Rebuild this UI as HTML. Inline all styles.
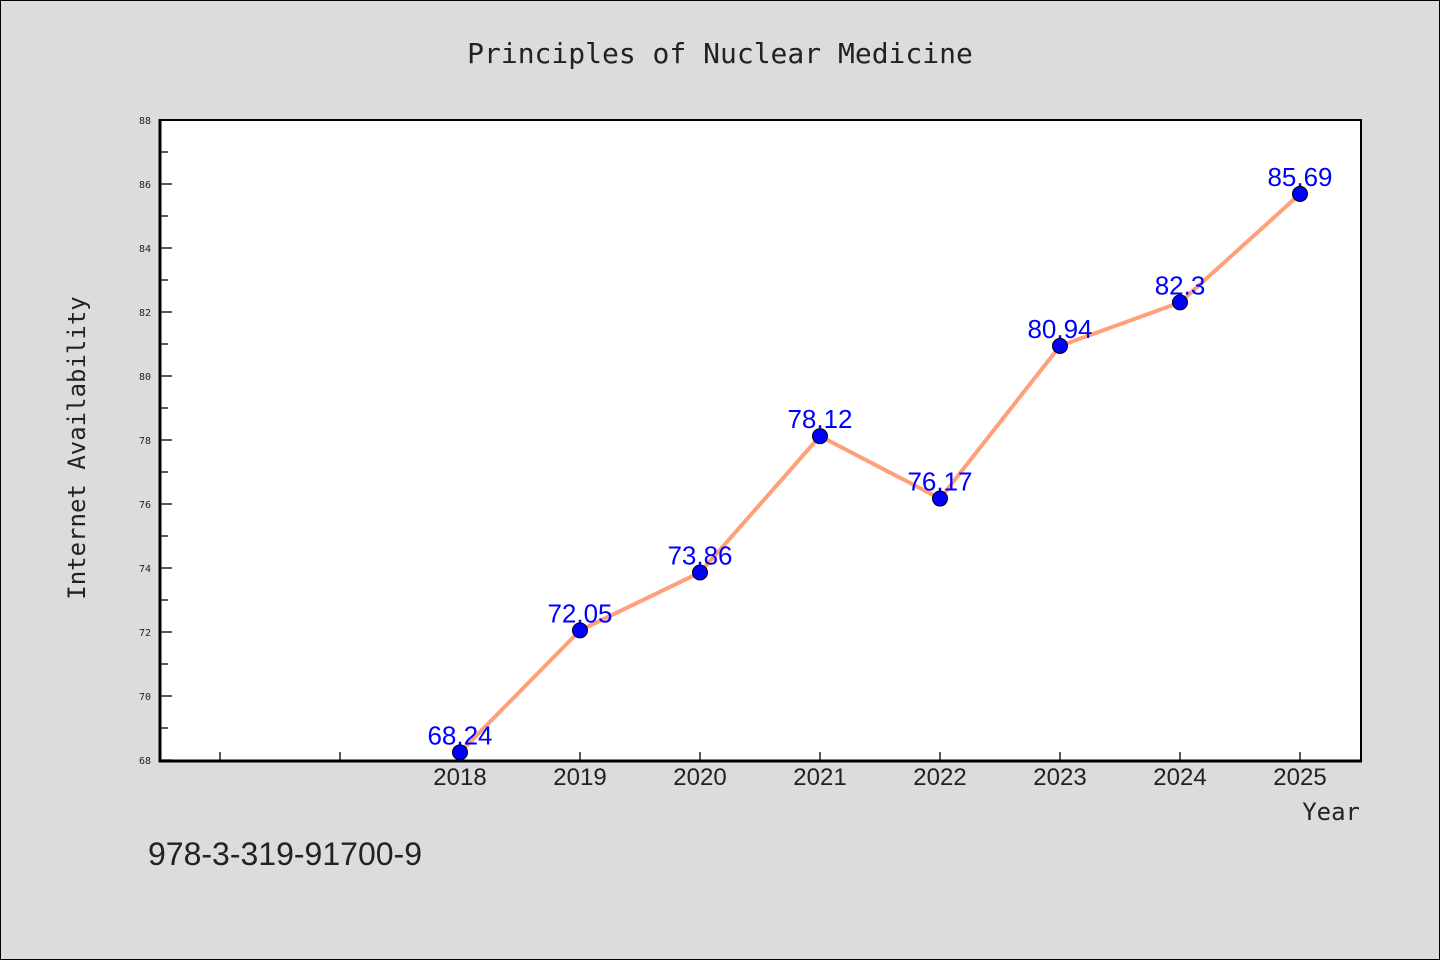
<!DOCTYPE html>
<html><head><meta charset="utf-8"><style>
body{margin:0;background:#dcdcdc;}
svg{display:block;font-family:"DejaVu Sans Mono","Liberation Mono",monospace;}
</style></head><body>
<svg id="chart" width="1440" height="960">
<rect x="0.5" y="0.5" width="1439" height="959" fill="#dcdcdc" stroke="#000"/>
<text x="720" y="63" text-anchor="middle" font-size="28" fill="#222">Principles of Nuclear Medicine</text>
<rect x="160" y="120" width="1201" height="640" fill="#fff"/>
<g id="yticks"></g><g id="xticks"></g>
<path d="M160,120 H1361 V760" fill="none" stroke="#000" stroke-width="2"/>
<path d="M160,119 V761 H1362" fill="none" stroke="#000" stroke-width="3"/>
<g id="series"></g>
<text transform="translate(85,448) rotate(-90)" text-anchor="middle" font-size="24" fill="#222">Internet Availability</text>
<text x="1360" y="820" text-anchor="end" font-size="24" fill="#222">Year</text>
<text x="148" y="865" font-size="32" fill="#222" font-family="Liberation Sans, sans-serif">978-3-319-91700-9</text>
</svg>
<script>
const years=[2018,2019,2020,2021,2022,2023,2024,2025];
const values=[68.24,72.05,73.86,78.12,76.17,80.94,82.3,85.69];
const labels=["68.24","72.05","73.86","78.12","76.17","80.94","82.3","85.69"];
const yTicks=[68,70,72,74,76,78,80,82,84,86,88];
const xTickYears=[2016,2017,2018,2019,2020,2021,2022,2023,2024,2025];
const NS="http://www.w3.org/2000/svg";
const X=v=>160+(v-2015.5)*120;
const Y=v=>760-(v-68)*32;
function mk(t,a,p){const e=document.createElementNS(NS,t);for(const k in a)e.setAttribute(k,a[k]);p.appendChild(e);return e;}
const yt=document.getElementById('yticks');
for(let v=68;v<88;v+=1){if(v%2){const l=mk('line',{x1:160,x2:168,y1:Y(v),y2:Y(v),stroke:'#000','stroke-width':1.3},yt);

}}
yTicks.forEach(v=>{const l=mk('line',{x1:160,x2:172,y1:Y(v),y2:Y(v),stroke:'#000','stroke-width':1.3},yt);


const t=mk('text',{x:151,y:Y(v)+4,'text-anchor':'end','font-size':10,fill:'#222'},yt);t.textContent=v;

});
const xt=document.getElementById('xticks');
xTickYears.forEach(y=>{const l=mk('line',{x1:X(y),x2:X(y),y1:760,y2:752,stroke:'#000','stroke-width':1.3},xt);


if(years.includes(y)){const t=mk('text',{x:X(y),y:785,'text-anchor':'middle','font-size':24,fill:'#222','font-family':'Liberation Sans, sans-serif'},xt);t.textContent=y;

}});
const s=document.getElementById('series');
const pl=mk('polyline',{points:years.map((y,i)=>X(y)+','+Y(values[i])).join(' '),fill:'none',stroke:'#ffa07a','stroke-width':4},s);


years.forEach((y,i)=>{const c=mk('circle',{cx:X(y),cy:Y(values[i]),r:7.5,fill:'#0000ff',stroke:'#000','stroke-width':1},s);


const t=mk('text',{x:X(y),y:Y(values[i])-8,'text-anchor':'middle','font-size':26,fill:'#0000ff','font-family':'Liberation Sans, sans-serif'},s);t.textContent=labels[i];

});
</script>
</body></html>
